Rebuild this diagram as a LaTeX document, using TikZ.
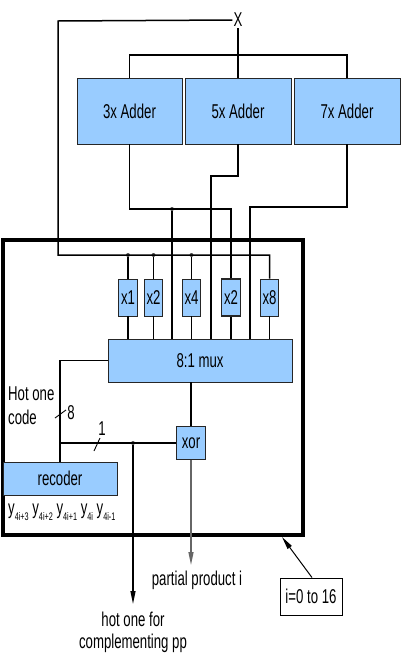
\documentclass[tikz,border=0pt]{standalone}
\usepackage{fontspec}
\setmainfont[FakeStretch=0.66]{Liberation Sans}
\usetikzlibrary{arrows.meta, positioning}
\definecolor{boxblue}{HTML}{99CCFF}
\newcommand{\ysub}[1]{y\raisebox{-6pt}{\fontsize{11}{11}\selectfont #1}}

\begin{document}
\begin{tikzpicture}[
  x=1pt, y=1pt,
  font=\fontsize{20}{24}\selectfont,
  blk/.style={draw=black!85, fill=boxblue, line width=0.9pt, inner sep=0pt, align=center},
  tallbox/.style={blk, minimum width=18.5pt, minimum height=37pt},
  wire/.style={line width=1.5pt},
  arrow/.style={-{Triangle[length=13pt,width=5pt]}, line width=1.3pt},
  dot/.style={circle, fill=black!70, inner sep=0pt, minimum size=4pt}
]
\useasboundingbox (0,0) rectangle (400,-654);

% adders
\node[blk, minimum width=105pt, minimum height=66pt] (add3) at (129.5,-111) {3x Adder};
\node[blk, minimum width=106pt, minimum height=66pt] (add5) at (238,-111) {5x Adder};
\node[blk, minimum width=106pt, minimum height=66pt] (add7) at (347,-111) {7x Adder};
\node[inner sep=1pt] (xin) at (238,-20) {X};

% one slice
\node[draw, line width=4pt, minimum width=300pt, minimum height=295pt, inner sep=0pt] (unit) at (153,-387.5) {};
\node[tallbox] (m1) at (128,-297.5) {x1};
\node[tallbox] (m2) at (153.5,-297.5) {x2};
\node[tallbox] (m4) at (191.5,-297.5) {x4};
\node[tallbox, line width=1.2pt] (m6) at (231,-297.5) {x2};
\node[tallbox] (m8) at (269.5,-297.5) {x8};
\node[blk, minimum width=184pt, minimum height=43pt] (mux) at (200,-360.5) {8:1 mux};
\node[blk, minimum width=29pt, minimum height=33pt] (xor) at (191,-443) {xor};
\node[blk, minimum width=114pt, minimum height=33pt] (recoder) at (60,-478.5) {recoder};
\node[align=left, anchor=north west, inner sep=0pt] (hotcode) at (8,-387) {Hot one\\code};
\node[inner sep=0pt] (w8) at (71,-413) {8};
\node[inner sep=0pt] (w1) at (102,-429) {1};
\node[anchor=west, inner sep=0pt] (ybits) at (8,-512) {\ysub{4i+3} \ysub{4i+2} \ysub{4i+1} \ysub{4i} \ysub{4i-1}};

% outputs
\node[inner sep=0pt] (pp) at (197,-580) {partial product i};
\node[align=center, anchor=south, inner sep=0pt, font=\fontsize{20}{22}\selectfont] (hot) at (133,-653) {hot one for\\complementing pp};
\node[draw, line width=0.9pt, minimum width=62pt, minimum height=37pt, inner sep=0pt] (range) at (311,-596.5) {i=0 to 16};

% junctions
\coordinate (xbus) at (58,-255);
\node[dot] (d1) at (128,-255) {};
\node[dot] (d2) at (153.5,-255) {};
\node[dot] (d4) at (191.5,-255) {};
\node[dot] (d3) at (172,-209) {};
\node[dot] (dhot) at (133,-443) {};

% X distribution
\draw[wire] (xin.west) -- (58,-21) -- (xbus) -| (m8.north);
\draw[wire] (xin.south) -- (add5.north);
\draw[wire] (add3.north) |- (238,-55) -| (add7.north);
\draw[wire] (d1) -- (m1.north);
\draw[wire] (d2) -- (m2.north);
\draw[wire] (d4) -- (m4.north);

% adder outputs
\draw[wire] (add3.south) |- (231,-209) -- (m6.north);
\draw[wire] (d3) -- (d3 |- mux.north);
\draw[wire] (add5.south) -- (238,-176) -| (211,-339);
\draw[wire] (add7.south) |- (250,-207) -- (250,-339);

% into the mux
\foreach \m in {m1,m2,m4,m6,m8}
  \draw[wire] (\m.south) -- (\m |- mux.north);

% select and sign
\draw[wire] (mux.west) -| (recoder.north);
\draw[wire] (60,-443) -- (xor.west);
\draw[wire] (mux.south -| xor.north) -- (xor.north);
\draw[line width=0.9pt] (55,-418) -- (66,-410);
\draw[line width=0.9pt] (94,-451) -- (100,-438);

\draw[arrow] (dhot) -- (133,-604);
\draw[arrow, draw=black!60] (xor.south) -- (191,-565);
\draw[arrow, line width=1pt] ([xshift=1pt]range.north) -- (282,-537);

\end{tikzpicture}
\end{document}
